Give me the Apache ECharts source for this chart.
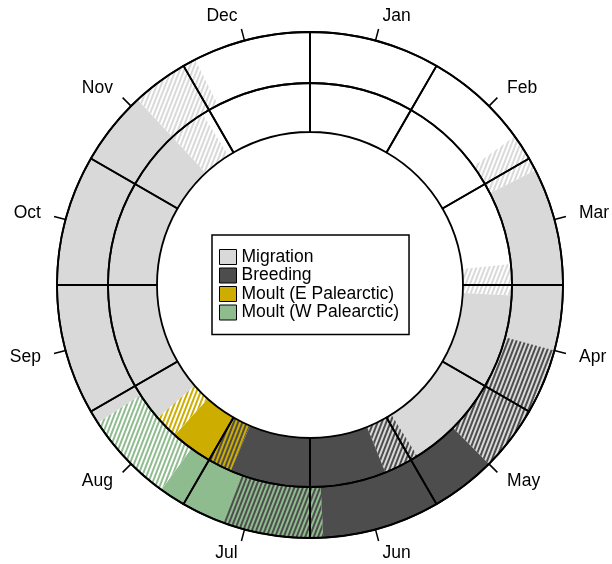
<!DOCTYPE html>
<html>
<head>
<meta charset="utf-8">
<script src="https://cdn.jsdelivr.net/npm/echarts@6.0.0/dist/echarts.min.js"></script>
<style>
  html, body { margin: 0; padding: 0; background: #ffffff; }
  #chart { width: 612px; height: 564px; }
</style>
</head>
<body>
<div id="chart"></div>
<script>
// Month names around the annual cycle (clockwise from the top)
const MONTHS = ['Jan', 'Feb', 'Mar', 'Apr', 'May', 'Jun', 'Jul', 'Aug', 'Sep', 'Oct', 'Nov', 'Dec'];

// Outer ring: W Palearctic. Phase boundaries in months after 1 January.
const OUTER_EDGES  = [0, 1.8, 2.1, 3.5, 4.5, 5.9, 6.67, 7.2, 7.9, 10.57, 11.1, 12];
const OUTER_PHASES = ['none', 'migrationOnset', 'migration', 'breedingOnset', 'breeding',
                      'moultWOnset', 'moultW', 'moultWEnd', 'migration', 'migrationEnd', 'none'];

// Inner ring: E Palearctic.
const INNER_EDGES  = [0, 2.8, 3.1, 4.93, 5.27, 6.77, 7.0, 7.4, 7.63, 10.57, 10.93, 12];
const INNER_PHASES = ['none', 'migrationOnset', 'migration', 'breedingOnset', 'breeding',
                      'moultEOnset', 'moultE', 'moultEEnd', 'migration', 'migrationEnd', 'none'];

// Legend entries
const LEGEND_NAMES = ['Migration', 'Breeding', 'Moult (E Palearctic)', 'Moult (W Palearctic)'];

const FONT = '"Liberation Sans", Arial, Helvetica, sans-serif';
const COL = {
  none: '#ffffff',
  migration: '#d9d9d9',
  breeding: '#4d4d4d',
  moultE: '#cdad00',
  moultW: '#8fbc8f'
};

// fill = solid colour, hatch = stripe colour drawn over the fill (uncertain timing)
const PHASE_STYLE = {
  none:           { fill: COL.none },
  migrationOnset: { fill: COL.none, hatch: COL.migration },
  migration:      { fill: COL.migration, name: 'Migration' },
  migrationEnd:   { fill: COL.none, hatch: COL.migration },
  breedingOnset:  { fill: COL.migration, hatch: COL.breeding },
  breeding:       { fill: COL.breeding, name: 'Breeding' },
  moultWOnset:    { fill: COL.breeding, hatch: COL.moultW },
  moultW:         { fill: COL.moultW, name: 'Moult (W Palearctic)' },
  moultWEnd:      { fill: COL.none, hatch: COL.moultW },
  moultEOnset:    { fill: COL.breeding, hatch: COL.moultE },
  moultE:         { fill: COL.moultE, name: 'Moult (E Palearctic)' },
  moultEEnd:      { fill: COL.none, hatch: COL.moultE }
};
const LEGEND_COLORS = [COL.migration, COL.breeding, COL.moultE, COL.moultW];

const CENTER = [310, 285];
const R_INNER = 153, R_MID = 202, R_OUTER = 253;
const LABEL_R = R_OUTER + 25;

function hatch(color) {
  return {
    symbol: 'rect',
    symbolSize: 1,
    dashArrayX: [1, 0],
    dashArrayY: [2, 2],
    rotation: -1.2,
    color: color
  };
}

function ringData(edges, phases) {
  return phases.map(function (p, i) {
    const st = PHASE_STYLE[p];
    const itemStyle = { color: st.fill, borderWidth: 0 };
    if (st.hatch) itemStyle.decal = hatch(st.hatch);
    return { name: st.name || p, value: edges[i + 1] - edges[i], itemStyle: itemStyle };
  });
}

function ringSeries(radius, data) {
  return {
    type: 'pie',
    center: CENTER,
    radius: radius,
    startAngle: 90,
    clockwise: true,
    silent: true,
    animation: false,
    label: { show: false },
    labelLine: { show: false },
    emphasis: { disabled: true },
    data: data
  };
}

function frameSeries(radius) {
  const s = ringSeries(radius, MONTHS.map(function (m) {
    return { name: m, value: 1 };
  }));
  s.itemStyle = { color: 'rgba(0,0,0,0)', borderColor: '#000', borderWidth: 1.8 };
  s.z = 5;
  return s;
}

const chart = echarts.init(document.getElementById('chart'));
chart.setOption({
  backgroundColor: '#ffffff',
  animation: false,
  legend: {
    orient: 'vertical',
    left: 212,
    top: 235,
    padding: [13, 10, 13, 7],
    itemWidth: 17,
    itemHeight: 15,
    itemGap: 0.5,
    icon: 'rect',
    selectedMode: false,
    borderColor: '#000',
    borderWidth: 1.5,
    borderRadius: 0,
    backgroundColor: '#ffffff',
    textStyle: { fontSize: 17.5, color: '#000', fontFamily: FONT },
    data: LEGEND_NAMES.map(function (n, i) {
      return { name: n, itemStyle: { color: LEGEND_COLORS[i], borderColor: '#000', borderWidth: 1 } };
    })
  },
  polar: { center: CENTER, radius: R_OUTER },
  angleAxis: {
    type: 'category',
    data: MONTHS,
    startAngle: 90,
    clockwise: true,
    boundaryGap: true,
    z: 10,
    axisLine: { show: true, lineStyle: { color: '#000', width: 1.8 } },
    axisTick: { show: true, alignWithLabel: true, inside: false, length: 12, lineStyle: { color: '#000', width: 1.5 } },
    axisLabel: { show: false },
    splitLine: { show: false },
    splitArea: { show: false }
  },
  radiusAxis: { type: 'value', min: 0, max: R_OUTER, show: false },
  series: [
    ringSeries([R_MID, R_OUTER], ringData(OUTER_EDGES, OUTER_PHASES)),
    ringSeries([R_INNER, R_MID], ringData(INNER_EDGES, INNER_PHASES)),
    frameSeries([R_MID, R_OUTER]),
    frameSeries([R_INNER, R_MID]),
    {
      // month names placed just beyond the tick marks
      type: 'scatter',
      coordinateSystem: 'polar',
      symbolSize: 1,
      clip: false,
      itemStyle: { color: 'rgba(0,0,0,0)' },
      silent: true,
      animation: false,
      z: 10,
      label: {
        show: true, formatter: '{b}', distance: 0, fontSize: 17.5,
        color: '#000', opacity: 1, textBorderWidth: 0, fontFamily: FONT
      },
      data: MONTHS.map(function (m, i) {
        return { name: m, value: [LABEL_R, m], label: { position: i < 6 ? 'right' : 'left' } };
      })
    }
  ]
});
</script>
</body>
</html>
